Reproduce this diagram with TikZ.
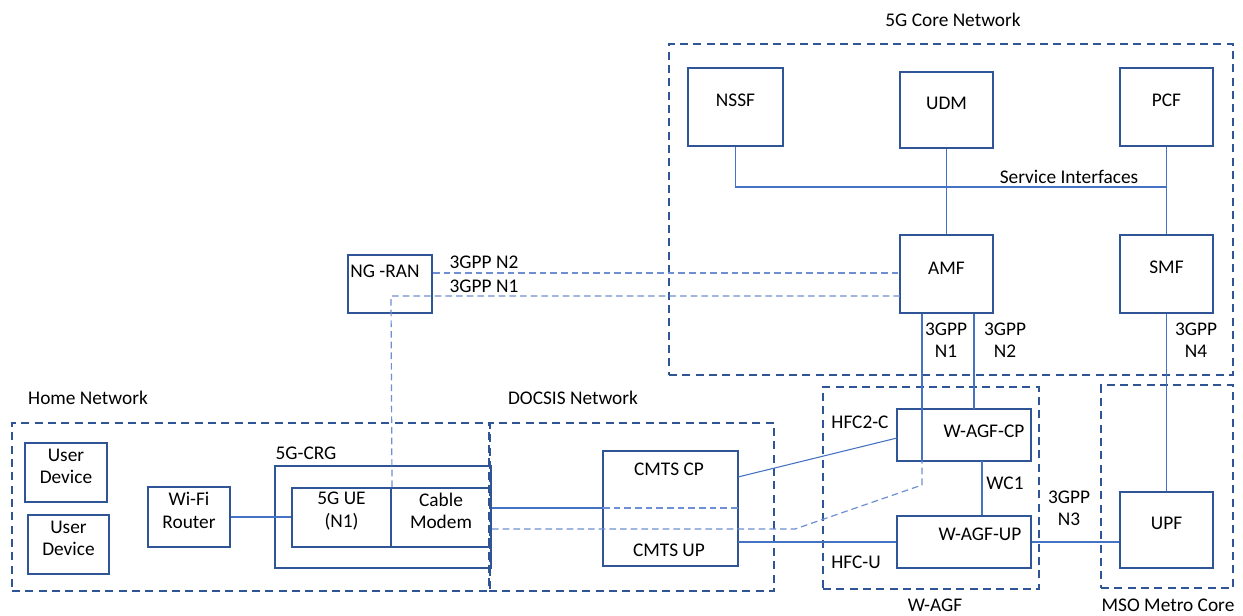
\documentclass[tikz,border=0pt]{standalone}
\usepackage{fontspec}
\setmainfont{Carlito}
\usetikzlibrary{fit}
\definecolor{boxblue}{HTML}{2F5597}
\definecolor{linkblue}{HTML}{4472C4}
\definecolor{sigblue}{HTML}{6E8FD2}
\newcommand\diafont{\fontsize{14.5}{16.8}\selectfont}
\tikzset{
  box/.style={draw=boxblue, line width=1.5pt, inner sep=0pt, align=center, font=\diafont},
  zone/.style={draw=boxblue, line width=1.5pt, dash pattern=on 6pt off 4pt, inner sep=0pt},
  link/.style={draw=linkblue, line width=0.8pt},
  sig/.style={draw=sigblue, line width=0.9pt, dash pattern=on 5pt off 3pt},
  txt/.style={font=\diafont, inner sep=0pt, align=center, text=black},
}
\begin{document}
\begin{tikzpicture}[x=0.75pt,y=-0.75pt]
\path[use as bounding box, fill=white] (0,0) rectangle (1243,615);

% ---- dashed domains ----
\node[zone, fit={(669,44)(1233,375)}] (core) {};
\node[zone, fit={(12,423)(490,591)}] (home) {};
\node[zone, fit={(489,423)(774,591)}] (docsis) {};
\node[zone, fit={(823,387)(1039,589)}] (wagf) {};
\node[zone, fit={(1101,385)(1233,588)}] (mso) {};

\node[txt] (coret) at (953,20) {5G Core Network};
\node[txt] (homet) at (88,398) {Home Network};
\node[txt] (docsist) at (573,398) {DOCSIS Network};
\node[txt] (wagft) at (935,605) {W-AGF};
\node[txt] (msot) at (1168,605) {MSO Metro Core};

% ---- 5G core functions ----
\node[box, fit={(688,68)(783,146)}] (nssf) {NSSF};
\node[box, fit={(900,72)(993,148)}] (udm) {UDM};
\node[box, fit={(1120,68)(1213,146)}] (pcf) {PCF};
\node[box, fit={(900,235)(993,313)}] (amf) {AMF};
\node[box, fit={(1120,235)(1213,313)}] (smf) {SMF};

% ---- access side ----
\node[box, fit={(348,255)(432,313)}] (ngran) {};
\node[txt] (ngrant) at (385,271) {NG -RAN};

\node[box, fit={(25,443)(107,502)}] (ud1) {User\\Device};
\node[box, fit={(28,515)(109,574)}] (ud2) {User\\Device};
\node[box, fit={(148,487)(230,547)}] (wifi) {Wi-Fi\\Router};
\node[box, fit={(275,466)(491,568)}] (crg) {};
\node[txt] (crgt) at (306,453) {5G-CRG};
\node[box, fit={(292,488)(391,547)}] (ue) {5G UE\\(N1)};
\node[box, fit={(391,488)(491,547)}] (cm) {Cable\\Modem};

\node[box, fit={(603,451)(738,566)}] (cmts) {};
\node[txt] (cmtscpt) at (669,469) {CMTS CP};
\node[txt] (cmtsupt) at (669,550) {CMTS UP};

\node[box, fit={(897,409)(1031,461)}] (agfcp) {};
\node[txt] (agfcpt) at (984,431) {W-AGF-CP};
\node[box, fit={(897,516)(1031,568)}] (agfup) {};
\node[txt] (agfupt) at (980,534) {W-AGF-UP};

\node[box, fit={(1120,492)(1213,568)}] (upf) {UPF};

% ---- service bus ----
\coordinate (busR) at (1167,187);
\draw[link] (nssf.south) |- (busR);
\draw[link] (pcf.south) -- (smf.north);
\draw[link] (udm.south) -- (amf.north);
\node[txt] (sbit) at (1069,177) {Service Interfaces};

% ---- NG-RAN signalling ----
\coordinate (n2a) at (900,273);
\coordinate (n1a) at (900,296);
\coordinate (n1k) at (391,296);
\draw[sig] (ngran.east |- n2a) -- (n2a);
\draw[sig] (ue.north east) -- (n1k) -- (n1a);
\node[txt] (n2t) at (484,262) {3GPP N2};
\node[txt] (n1t) at (484,286) {3GPP N1};

% ---- AMF to W-AGF ----
\coordinate (n1b) at (922,485);
\coordinate (n1c) at (795,529);
\coordinate (n2b) at (974,409);
\draw[link] (amf.south -| n1b) -- (n1b |- agfcp.south);
\draw[sig] (cm.east |- n1c) -- (n1c) -- (n1b) -- (n1b |- agfcp.south);
\draw[link] (amf.south -| n2b) -- (n2b);
\node[txt] (amfn1t) at (946,340) {3GPP\\N1};
\node[txt] (amfn2t) at (1005,340) {3GPP\\N2};

% ---- SMF to UPF ----
\draw[link] (smf.south) -- (upf.north);
\node[txt] (n4t) at (1196,340) {3GPP\\N4};

% ---- home links ----
\draw[link] (wifi.east) -- (ue.west |- wifi.east);

% ---- cable modem to CMTS ----
\coordinate (cmd) at (603,508);
\draw[link] (cm.east |- cmd) -- (cmd);
\draw[sig] (cmd) -- (cmts.east |- cmd);

% ---- CMTS to W-AGF ----
\coordinate (cpo) at (738,477);
\coordinate (cpi) at (897,438);
\draw[link] (cpo) -- (cpi);
\coordinate (upy) at (738,542);
\draw[link] (upy) -- (agfup.west |- upy);
\node[txt] (hfcct) at (860,422) {HFC2-C};
\node[txt] (hfcut) at (856,562) {HFC-U};

% ---- W-AGF internal and N3 ----
\coordinate (wc) at (982,461);
\draw[link] (wc) -- (wc |- agfup.north);
\node[txt] (wc1t) at (1005,483) {WC1};
\draw[link] (agfup.east |- upy) -- (upf.west |- upy);
\node[txt] (n3t) at (1069,508) {3GPP\\N3};
\end{tikzpicture}
\end{document}
